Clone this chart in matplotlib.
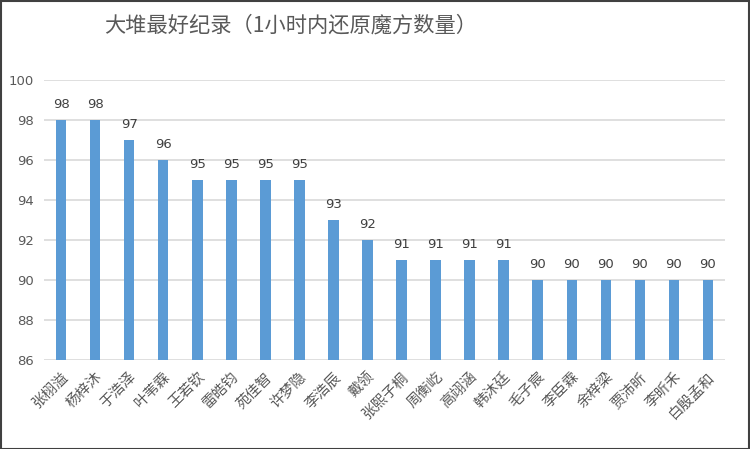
import matplotlib
matplotlib.use('Agg')
import matplotlib.pyplot as plt
from matplotlib.patches import Rectangle

plt.rcParams['font.family'] = ['Noto Sans CJK SC', 'DejaVu Sans']

names = ['张栩溢', '杨梓沐', '于浩泽', '叶苇霖', '王若钦', '雷皓钧', '苑佳智', '许梦隐',
         '李浩辰', '戴领', '张熙子桐', '周衡屹', '高翊涵', '韩沐廷', '毛子宸', '李臣霖',
         '余梓梁', '贾沛昕', '李昕禾', '白殷孟和']
scores = [98, 98, 97, 96, 95, 95, 95, 95, 93, 92, 91, 91, 91, 91, 90, 90, 90, 90, 90, 90]
title = '大堆最好纪录（1小时内还原魔方数量）'

fig = plt.figure(figsize=(7.5, 4.49), dpi=100)
ax = fig.add_axes([0.0587, 0.198, 0.908, 0.624])

x = range(len(names))
ax.bar(x, scores, width=0.31, color='#5B9BD5', zorder=3)
for i, v in zip(x, scores):
    ax.text(i, v + 0.45, str(v), ha='center', va='bottom', fontsize=9.5, color='#404040', family='DejaVu Sans')

ax.set_ylim(86, 100)
ax.set_xlim(-0.5, len(names) - 0.5)
ax.set_yticks(range(86, 101, 2))
ax.set_yticklabels([str(t) for t in range(86, 101, 2)], family='DejaVu Sans', fontsize=9.5, color='#595959')
ax.set_xticks(list(x))
ax.set_xticklabels(names, rotation=45, ha='right', rotation_mode='anchor', fontsize=10.5, color='#595959')
ax.tick_params(length=0, pad=7)
ax.grid(axis='y', color='#D9D9D9', linewidth=1.2, zorder=0)
for s in ax.spines.values():
    s.set_visible(False)

fig.text(0.388, 0.944, title, ha='center', va='center', fontsize=15.3, color='#595959')
fig.patches.append(Rectangle((0.001, 0.001), 0.997, 0.997, transform=fig.transFigure,
                             fill=False, edgecolor='#404040', linewidth=1.5))

fig.savefig('out.png', dpi=100)
